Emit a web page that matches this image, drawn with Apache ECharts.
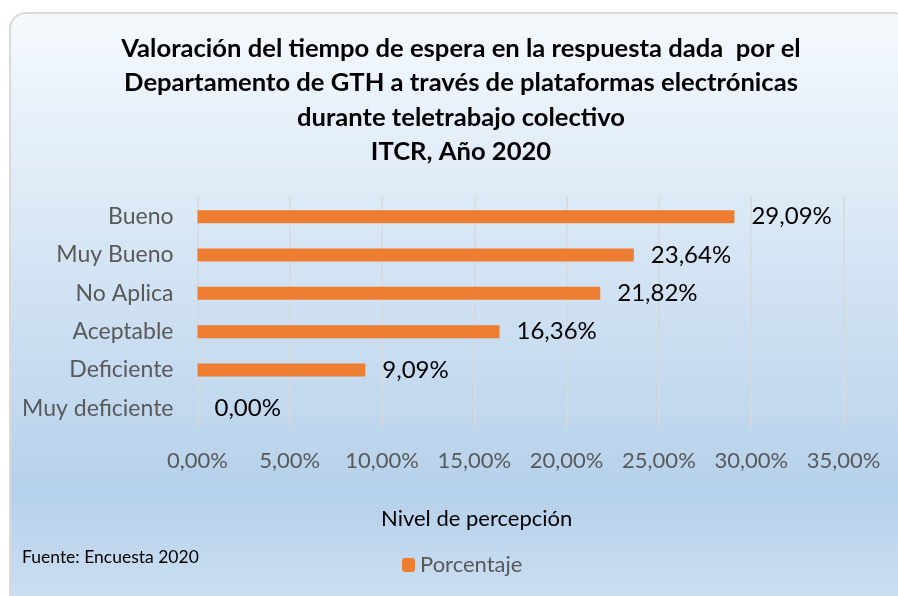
<!DOCTYPE html>
<html>
<head>
<meta charset="utf-8">
<title>Valoración del tiempo de espera</title>
<script src="https://cdn.jsdelivr.net/npm/echarts@6/dist/echarts.min.js"></script>
<style type="text/css">
	html, body { margin: 0; padding: 0; background: #ffffff; }
	#chart { width: 898px; height: 596px; }
</style>
</head>
<body>
<div id="chart"></div>
<script>
	// datos del gráfico
	var categorias = ['Bueno', 'Muy Bueno', 'No Aplica', 'Aceptable', 'Deficiente', 'Muy deficiente'];
	var porcentajes = [29.09, 23.64, 21.82, 16.36, 9.09, 0.00];
	var titulo = 'Valoración del tiempo de espera en la respuesta dada  por el\nDepartamento de GTH a través de plataformas electrónicas\ndurante teletrabajo colectivo\nITCR, Año 2020';

	var fuente = 'Lato, "Liberation Sans", sans-serif';

	function fmt(v) {
		return Number(v).toFixed(2).replace('.', ',') + '%';
	}

	var chart = echarts.init(document.getElementById('chart'));
	chart.setOption({
		animation: false,
		textStyle: { fontFamily: fuente },
		graphic: [{
			type: 'rect',
			z: -10,
			silent: true,
			shape: { x: 10, y: 13, width: 900, height: 600, r: 16 },
			style: {
				fill: new echarts.graphic.LinearGradient(0, 0, 0, 1, [
					{ offset: 0, color: '#f5f9fd' },
					{ offset: 0.8, color: '#b6d1eb' },
					{ offset: 0.97, color: '#cadef1' },
					{ offset: 1, color: '#cadef1' }
				]),
				stroke: '#d9d9d9',
				lineWidth: 2
			}
		}, {
			type: 'text',
			z: 100,
			left: 22,
			top: 548,
			style: { text: 'Fuente: Encuesta 2020', fill: '#000000', font: '17.5px ' + fuente }
		}, {
			type: 'text',
			z: 100,
			left: 381,
			top: 508,
			style: { text: 'Nivel de percepción', fill: '#000000', font: '22px ' + fuente }
		}],
		title: {
			text: titulo,
			left: 456,
			textAlign: 'center',
			top: 26,
			textStyle: {
				fontFamily: fuente,
				fontWeight: 'bold',
				fontSize: 25.6,
				lineHeight: 34.5,
				color: '#000000'
			}
		},
		legend: {
			left: 397,
			top: 549,
			itemWidth: 13,
			itemHeight: 14,
			itemGap: 8,
			textStyle: { fontSize: 22, color: '#595959', fontFamily: fuente },
			data: ['Porcentaje']
		},
		grid: {
			left: 197.5,
			right: 54.5,
			top: 197.5,
			height: 230
		},
		xAxis: {
			type: 'value',
			min: 0,
			max: 35,
			interval: 5,
			axisLine: { show: false },
			axisTick: { show: false },
			splitLine: { lineStyle: { color: '#d9d9d9', width: 1.5 } },
			axisLabel: {
				margin: 22,
				fontSize: 22,
				color: '#595959',
				formatter: fmt
			}
		},
		yAxis: {
			type: 'category',
			inverse: true,
			data: categorias,
			axisLine: { show: false },
			axisTick: { show: false },
			axisLabel: { margin: 24, fontSize: 23, color: '#595959' }
		},
		series: [{
			name: 'Porcentaje',
			type: 'bar',
			data: porcentajes,
			barWidth: 13,
			itemStyle: { color: '#ed7d31' },
			label: {
				show: true,
				position: 'right',
				distance: 17,
				fontSize: 24,
				color: '#000000',
				formatter: function (p) { return fmt(p.value); }
			}
		}]
	});
</script>
</body>
</html>
